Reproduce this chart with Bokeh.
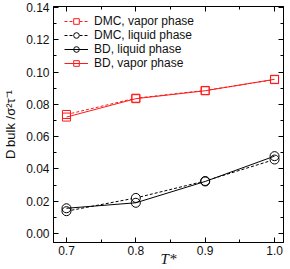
from bokeh.plotting import figure
from bokeh.models import (Legend, LegendItem, FixedTicker, LinearAxis, Range1d,
                          NumeralTickFormatter, CustomJSTickFormatter)
from bokeh.embed import file_html
from bokeh.resources import INLINE

# ---- data ----
temps = [0.7, 0.8, 0.9, 1.0]
dmc_vapor = [0.0737, 0.0838, 0.0886, 0.0953]
bd_vapor = [0.0721, 0.0835, 0.0884, 0.0955]
bd_liquid = [0.0156, 0.0190, 0.0322, 0.0479]
dmc_liquid = [0.0138, 0.0220, 0.0325, 0.0458]

x_ticks = [0.7, 0.8, 0.9, 1.0]
x_minor = [0.75, 0.85, 0.95]
y_ticks = [0.00, 0.02, 0.04, 0.06, 0.08, 0.10, 0.12, 0.14]
y_minor = [0.01, 0.03, 0.05, 0.07, 0.09, 0.11, 0.13]

labels = ["DMC, vapor phase", "DMC, liquid phase", "BD, liquid phase", "BD, vapor phase"]
x_title = "T*"
y_title = "D\u2009bulk /\u03c3\u00b2\u03c4\u207b\u00b9"

RED = "#ff1a1a"
BLACK = "black"

p = figure(width=290, height=269,
           x_range=Range1d(0.6813, 1.0129), y_range=Range1d(-0.0056, 0.1406),
           output_backend="svg", toolbar_location=None,
           min_border_left=52, min_border_right=7, min_border_top=6, min_border_bottom=27)
p.grid.visible = False
p.outline_line_color = "black"
p.outline_line_width = 1

def style_axis(ax, ticks, minor, fmt, show_labels=True):
    ax.ticker = FixedTicker(ticks=ticks, minor_ticks=minor)
    if show_labels:
        ax.formatter = NumeralTickFormatter(format=fmt)
    else:
        ax.formatter = CustomJSTickFormatter(code="return ''")
    ax.major_tick_in = 5
    ax.major_tick_out = 0
    ax.minor_tick_in = 3
    ax.minor_tick_out = 0
    ax.axis_line_color = "black"
    ax.major_tick_line_color = "black"
    ax.minor_tick_line_color = "black"
    ax.major_label_text_font = "Liberation Sans"
    ax.major_label_text_font_size = "12px"
    ax.major_label_text_color = "#111111"
    ax.major_label_standoff = 3 if show_labels else 0

for ax in p.xaxis:
    style_axis(ax, x_ticks, x_minor, "0.0")
    ax.axis_label = x_title
    ax.axis_label_text_font = "Liberation Serif"
    ax.axis_label_text_font_style = "italic"
    ax.axis_label_text_font_size = "15px"
    ax.axis_label_text_color = "#111111"
    ax.axis_label_standoff = -7
for ax in p.yaxis:
    style_axis(ax, y_ticks, y_minor, "0.00")
    ax.major_label_standoff = 4
    ax.axis_label = y_title
    ax.axis_label_text_font = "Liberation Sans"
    ax.axis_label_text_font_style = "normal"
    ax.axis_label_text_font_size = "13px"
    ax.axis_label_text_color = "#111111"
    ax.axis_label_standoff = 5

ax_r = LinearAxis()
style_axis(ax_r, y_ticks, y_minor, "0.00", show_labels=False)
p.add_layout(ax_r, "right")
ax_t = LinearAxis()
style_axis(ax_t, x_ticks, x_minor, "0.0", show_labels=False)
p.add_layout(ax_t, "above")

# ---- series ----
r1l = p.line(temps, dmc_vapor, line_color=RED, line_width=1, line_dash="3 2")
r1s = p.scatter(temps, dmc_vapor, marker="square", size=8, line_color=RED, fill_color="white", line_width=1)
r2l = p.line(temps, dmc_liquid, line_color=BLACK, line_width=1, line_dash="3 2")
r2s = p.scatter(temps, dmc_liquid, marker="circle", size=9, line_color=BLACK, fill_color="white", line_width=1)
r3l = p.line(temps, bd_liquid, line_color=BLACK, line_width=1)
r3s = p.scatter(temps, bd_liquid, marker="circle", size=9, line_color=BLACK, fill_color="white", line_width=1, fill_alpha=0)
r4l = p.line(temps, bd_vapor, line_color=RED, line_width=1)
r4s = p.scatter(temps, bd_vapor, marker="square", size=8, line_color=RED, fill_color="white", line_width=1, fill_alpha=0)

legend = Legend(items=[
    LegendItem(label=labels[0], renderers=[r1l, r1s]),
    LegendItem(label=labels[1], renderers=[r2l, r2s]),
    LegendItem(label=labels[2], renderers=[r3l, r3s]),
    LegendItem(label=labels[3], renderers=[r4l, r4s]),
], location=(11, 172))
legend.padding = 0
legend.margin = 0
legend.spacing = 0
legend.glyph_width = 24
legend.glyph_height = 14
legend.label_height = 14
legend.label_standoff = 6
legend.label_text_font = "Liberation Sans"
legend.label_text_font_size = "12px"
legend.label_text_color = "#111111"
legend.background_fill_alpha = 0
legend.border_line_alpha = 0
p.add_layout(legend, "center")

open("out.html", "w").write(file_html(p, INLINE))
